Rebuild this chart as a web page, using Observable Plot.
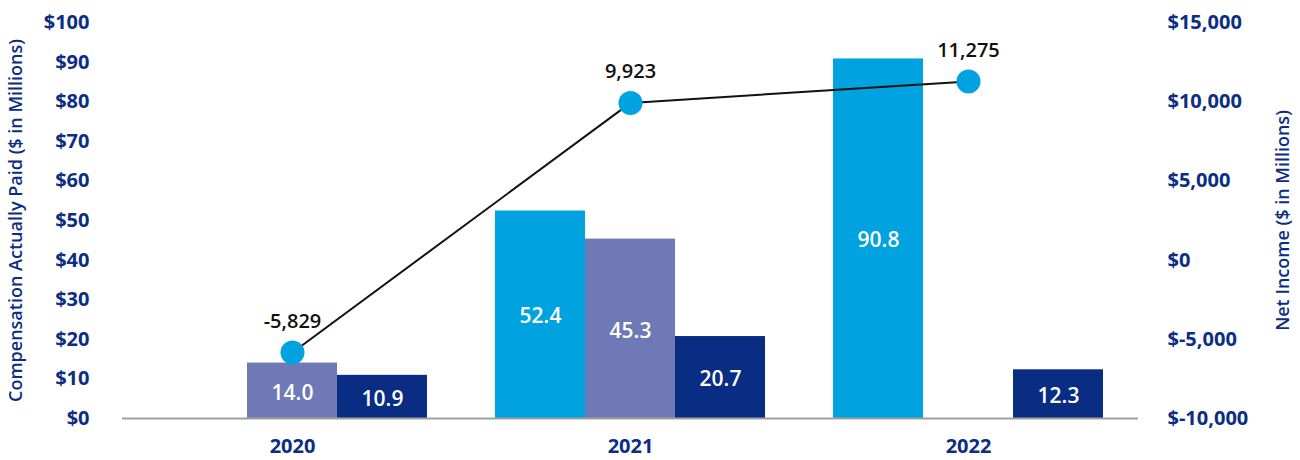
<!DOCTYPE html>
<html>
<head>
<meta charset="utf-8">
<script src="https://cdn.jsdelivr.net/npm/d3@7"></script>
<script src="https://cdn.jsdelivr.net/npm/@observablehq/plot@0.6"></script>
<style>
  body { margin: 0; background: #fff; }
  #wrap { position: relative; width: 1300px; height: 460px; }
  #wrap > svg { position: absolute; left: 0; top: 0; }
</style>
</head>
<body>
<div id="wrap"></div>
<script>
const years = ["2020", "2021", "2022"];
const seriesNames = ["PEO 1", "PEO 2", "Non-PEO NEO Average"];
const peo1 = [null, 52.4, 90.8];
const peo2 = [14.0, 45.3, null];
const neoAvg = [10.9, 20.7, 12.3];
const netIncome = [-5829, 9923, 11275];
const colors = ["#00A3E0", "#6E79B5", "#0A2D84"];
const leftTicks = [0, 10, 20, 30, 40, 50, 60, 70, 80, 90, 100];
const rightTicks = [-10000, -5000, 0, 5000, 10000, 15000];

const bars = [];
[peo1, peo2, neoAvg].forEach((arr, s) => {
  arr.forEach((v, i) => {
    if (v != null) bars.push({year: years[i], series: seriesNames[s], value: v});
  });
});
const lineData = years.map((y, i) => ({year: y, value: netIncome[i]}));

const loc = d3.formatLocale({decimal: ".", thousands: ",", grouping: [3], currency: ["$", ""], minus: "-"});
const fmtComma = loc.format(",");

const navy = "#0B2D84";
const common = {
  width: 1300, height: 460,
  marginTop: 22, marginBottom: 42, marginLeft: 122, marginRight: 162,
  style: {fontFamily: "'Open Sans', Lato, sans-serif", fontSize: "20px", color: navy, background: "transparent", overflow: "visible"}
};

// left axis (compensation)
const p0 = Plot.plot({
  ...common,
  y: {domain: [0, 100]},
  marks: [
    Plot.axisY({anchor: "left", ticks: leftTicks, tickFormat: d => "$" + d, tickSize: 0, tickPadding: 33,
      fontWeight: 700, label: "Compensation Actually Paid ($ in Millions)", labelAnchor: "center", labelOffset: 113, labelArrow: "none"})
  ]
});

// grouped bars
const p1 = Plot.plot({
  ...common,
  fx: {domain: years, paddingInner: 0.2, paddingOuter: 0.1, label: null},
  x: {domain: seriesNames, padding: 0, axis: null},
  y: {domain: [0, 100], axis: null},
  color: {domain: seriesNames, range: colors},
  marks: [
    Plot.axisFx({anchor: "bottom", tickSize: 0, tickPadding: 20, fontWeight: 700, label: null}),
    Plot.barY(bars, {fx: "year", x: "series", y: "value", fill: "series"}),
    Plot.text(bars, {fx: "year", x: "series", y: d => d.value / 2, text: d => d.value.toFixed(1), dy: 2,
      fill: "white", fontSize: 21, fontWeight: 600})
  ]
});

// net income line, right axis
const p2 = Plot.plot({
  ...common,
  x: {domain: years, paddingInner: 0.2, paddingOuter: 0.1, axis: null},
  y: {domain: [-10000, 15000]},
  marks: [
    Plot.axisY({anchor: "right", ticks: rightTicks, tickFormat: d => "$" + fmtComma(d), tickSize: 0, tickPadding: 29,
      fontWeight: 700, label: "Net Income ($ in Millions)", labelAnchor: "center", labelOffset: 150, labelArrow: "none"}),
    Plot.ruleY([-10000], {stroke: "#A0A0A0", strokeWidth: 2}),
    Plot.line(lineData, {x: "year", y: "value", stroke: "#111", strokeWidth: 2}),
    Plot.dot(lineData, {x: "year", y: "value", r: 12, fill: "#00A3E0"}),
    Plot.text(lineData, {x: "year", y: "value", text: d => fmtComma(d.value), dy: -31,
      fill: "#111", fontSize: 20, fontWeight: 600})
  ]
});

const wrap = document.getElementById("wrap");
wrap.appendChild(p1);
wrap.appendChild(p2);
wrap.appendChild(p0);

for (const svg of [p0, p2]) {
  d3.select(svg).selectAll('[aria-label="y-axis label"] text, g[aria-label="y-axis label"]')
    .attr("font-size", 18).attr("font-weight", 600);
}
</script>
</body>
</html>
